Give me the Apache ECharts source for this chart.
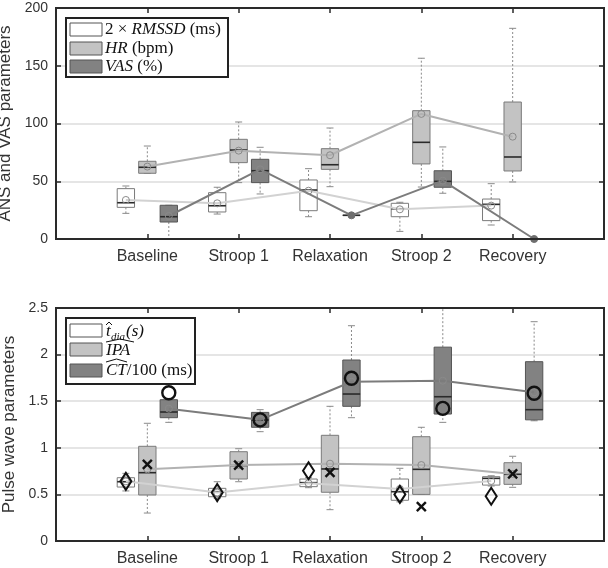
<!DOCTYPE html>
<html><head><meta charset="utf-8">
<script src="https://cdn.jsdelivr.net/npm/echarts@6/dist/echarts.min.js"></script>
<style>html,body{margin:0;padding:0;background:#fff;overflow:hidden}#c{width:608px;height:568px}</style>
</head><body><div id="c"></div>
<script>
const categories = ['Baseline', 'Stroop 1', 'Relaxation', 'Stroop 2', 'Recovery'];
const topTicks = [0, 50, 100, 150, 200];
const bottomTicks = [0, 0.5, 1, 1.5, 2, 2.5];

// Top panel: [whiskerLow, q1, median, q3, whiskerHigh]
const rmssdBox = [[22.2,27.4,31.4,43.6,45.9],[21.6,23.4,28.8,40.1,44.8],[19.3,24.5,42.4,51.1,60.9],[6.6,19.3,26.2,30.9,31.8],[12.1,15.9,30.0,34.6,47.9]];
const rmssdMean = [33.8, 30.9, 41.8, 25.7, 28.9];
const hrBox = [[56.9,56.9,62.1,67.3,80.5],[48.8,66.1,77.0,86.3,101.3],[45.3,60.3,64.3,78.2,96.1],[45.0,65.0,83.7,111.1,156.5],[49.4,58.9,71.0,118.6,182.4]];
const hrMean = [62.7, 76.5, 72.5, 108.3, 88.6];
const vasBox = [[0,14.7,19.3,29.2,29.2],[39.0,48.8,59.1,69.0,79.4],[20.5,20.5,20.5,20.5,20.5],[39.6,44.8,49.9,59.1,79.7],[0,0,0,0,0]];
const vasMean = [19.9, 60.3, 20.5, 50.5, 0];

// Bottom panel
const tdiaBox = [[0.537,0.579,0.636,0.679,0.726],[0.458,0.475,0.529,0.565,0.636],[0.572,0.583,0.626,0.665,0.679],[0.42,0.437,0.529,0.665,0.78],[0.59,0.60,0.672,0.69,0.70]];
const tdiaMean = [0.64, 0.52, 0.62, 0.558, 0.644];
const tdiaMarker = [0.64, 0.52, 0.754, 0.50, 0.48];
const ipaBox = [[0.30,0.494,0.733,1.016,1.263],[0.636,0.665,0.81,0.958,0.99],[0.336,0.523,0.773,1.134,1.445],[0.50,0.50,0.769,1.119,1.22],[0.576,0.608,0.716,0.84,0.909]];
const ipaMean = [0.769, 0.815, 0.83, 0.815, 0.72];
const ipaMarker = [0.823, 0.815, 0.737, 0.368, 0.72];
const ctBox = [[1.273,1.323,1.384,1.516,1.516],[1.173,1.22,1.298,1.38,1.409],[1.323,1.445,1.577,1.942,2.31],[1.273,1.362,1.548,2.08,2.9],[1.29,1.30,1.409,1.924,2.353]];
const ctMean = [1.42, 1.30, 1.709, 1.72, 1.595];
const ctMarker = [1.59, 1.30, 1.746, 1.423, 1.585];

const OFF = [-0.235, 0, 0.235];
const GRIDS = [{left: 56, top: 8, width: 548, height: 231}, {left: 56, top: 308, width: 548, height: 233}];
const chart = echarts.init(document.getElementById('c'), null, {renderer: 'canvas'});

function boxData(arr, g) { return arr.map((b, i) => [i + 1 + OFF[g]].concat(b)); }
function meanData(arr, g) { return arr.map((m, i) => [i + 1 + OFF[g], m]); }

function boxRender(fill, stroke) {
  return function (params, api) {
    const cs = params.coordSys;
    const cy = y => Math.max(cs.y, Math.min(cs.y + cs.height, y));
    const x = api.value(0);
    const P = v => { const c = api.coord([x, v]); return [c[0], cy(c[1])]; };
    const lo = P(api.value(1)), q1 = P(api.value(2)), md = P(api.value(3)), q3 = P(api.value(4)), hi = P(api.value(5));
    const w = api.size([0.19, 0])[0];
    const cx = lo[0];
    const cap = 3.5;
    const wh = {stroke: '#8a8a8a', lineWidth: 1, lineDash: [2, 2]};
    const capS = {stroke: '#8a8a8a', lineWidth: 1};
    const ch = [
      {type: 'line', shape: {x1: cx, y1: q3[1], x2: cx, y2: hi[1]}, style: wh},
      {type: 'line', shape: {x1: cx, y1: q1[1], x2: cx, y2: lo[1]}, style: wh},
    ];
    if (hi[1] > cs.y + 0.5) ch.push({type: 'line', shape: {x1: cx - cap, y1: hi[1], x2: cx + cap, y2: hi[1]}, style: capS});
    ch.push({type: 'line', shape: {x1: cx - cap, y1: lo[1], x2: cx + cap, y2: lo[1]}, style: capS});
    ch.push({type: 'rect', shape: {x: cx - w / 2, y: q3[1], width: w, height: Math.max(q1[1] - q3[1], 0.01)}, style: {fill: fill, stroke: stroke, lineWidth: 1}});
    ch.push({type: 'line', shape: {x1: cx - w / 2, y1: md[1], x2: cx + w / 2, y2: md[1]}, style: {stroke: '#2a2a2a', lineWidth: 1.6}});
    return {type: 'group', children: ch};
  };
}

function markerRender(kind) {
  return function (params, api) {
    const c = api.coord([api.value(0), api.value(1)]);
    const x = c[0], y = c[1];
    if (kind === 'diamond') {
      return {type: 'polygon', shape: {points: [[x, y - 8.5], [x + 5.5, y], [x, y + 8.5], [x - 5.5, y]]}, style: {fill: 'none', stroke: '#111', lineWidth: 2}};
    }
    if (kind === 'cross') {
      const s = 4.5;
      return {type: 'group', children: [
        {type: 'line', shape: {x1: x - s, y1: y - s, x2: x + s, y2: y + s}, style: {stroke: '#111', lineWidth: 2.4}},
        {type: 'line', shape: {x1: x - s, y1: y + s, x2: x + s, y2: y - s}, style: {stroke: '#111', lineWidth: 2.4}}
      ]};
    }
    return {type: 'circle', shape: {cx: x, cy: y, r: 6.5}, style: {fill: 'none', stroke: '#111', lineWidth: 2.4}};
  };
}

const fills = ['#ffffff', '#c3c3c3', '#828282'];
const strokes = ['#7a7a7a', '#7a7a7a', '#555555'];
const lineCols = ['#d2d2d2', '#b2b2b2', '#7c7c7c'];

function boxSeries(arr, g, gi) {
  return {type: 'custom', xAxisIndex: gi * 2, yAxisIndex: gi * 2, z: 2, renderItem: boxRender(fills[g], strokes[g]),
    encode: {x: 0, y: [1, 2, 3, 4, 5]}, data: boxData(arr, g), silent: true};
}
function meanSeries(arr, g, gi, filledIdx) {
  const d = meanData(arr, g).map((p, i) => (filledIdx && filledIdx.indexOf(i) >= 0)
    ? {value: p, symbolSize: 7, itemStyle: {color: '#6e6e6e', borderColor: '#6e6e6e'}} : {value: p});
  return {type: 'line', xAxisIndex: gi * 2, yAxisIndex: gi * 2, z: 3, data: d, symbol: 'circle', symbolSize: 7,
    lineStyle: {color: lineCols[g], width: 2}, itemStyle: {color: 'rgba(0,0,0,0)', borderColor: '#8a8a8a', borderWidth: 1},
    silent: true, animation: false};
}
function markerSeries(arr, g, kind) {
  return {type: 'custom', xAxisIndex: 2, yAxisIndex: 2, z: 4, renderItem: markerRender(kind),
    data: meanData(arr, g), silent: true};
}
function ghostSeries(gi, yv) {
  return {type: 'scatter', xAxisIndex: gi * 2 + 1, yAxisIndex: gi * 2 + 1, symbolSize: 0, silent: true, data: [[1, yv]]};
}

const axisCol = '#2a2a2a';
const labelFont = 'Liberation Sans, Arial, sans-serif';
function xAxes(gi) {
  const mk = (pos, lbl) => ({type: 'value', gridIndex: gi, min: 0, max: 6, interval: 1, position: pos,
    axisLine: {show: true, onZero: false, lineStyle: {color: axisCol, width: 2}},
    axisTick: {show: true, inside: true, length: 5, lineStyle: {color: axisCol, width: 1.5}},
    splitLine: {show: false}, axisLabel: lbl});
  return [
    mk('bottom', {show: true, margin: 10, fontSize: 16, color: '#333', fontFamily: labelFont,
      formatter: v => (v >= 1 && v <= 5) ? categories[v - 1] : ''}),
    mk('top', {show: false})
  ];
}
function yAxes(gi, ticks, name, gap) {
  const mn = ticks[0], mx = ticks[ticks.length - 1], iv = ticks[1] - ticks[0];
  const mk = (pos) => ({type: 'value', gridIndex: gi, min: mn, max: mx, interval: iv, position: pos,
    axisLine: {show: true, onZero: false, lineStyle: {color: axisCol, width: 2}},
    axisTick: {show: true, inside: true, length: 5, lineStyle: {color: axisCol, width: 1.5}}});
  const left = Object.assign(mk('left'), {name: name, nameLocation: 'middle', nameGap: gap,
      nameTextStyle: {fontSize: 17, color: '#333', fontFamily: labelFont},
      axisLabel: {show: true, fontSize: 14, color: '#333', margin: 8, fontFamily: labelFont},
      splitLine: {show: true, showMinLine: false, showMaxLine: false, lineStyle: {color: '#dcdcdc', width: 1.5}}});
  const right = Object.assign(mk('right'), {axisLabel: {show: false}, splitLine: {show: false}});
  return [left, right];
}

const serif = 'Liberation Serif, Times New Roman, serif';
const rich = {
  r: {fontFamily: serif, fontSize: 17, color: '#111'},
  i: {fontFamily: serif, fontSize: 17, fontStyle: 'italic', color: '#111'}
};
function swatch(x, y, fill) {
  return {type: 'rect', shape: {x: x, y: y, width: 32, height: 13}, style: {fill: fill, stroke: '#555', lineWidth: 1}, z: 100};
}
function txt(x, y, t) {
  return {type: 'text', x: x, y: y, z: 100, style: {text: t, rich: rich, verticalAlign: 'middle', fill: '#111', font: '17px ' + serif}};
}
function hat(x1, x2, y) {
  return {type: 'polyline', z: 100, shape: {points: [[x1, y + 3], [(x1 + x2) / 2, y], [x2, y + 3]]}, style: {stroke: '#111', lineWidth: 1, fill: 'none'}};
}
function frame(g) {
  return {type: 'rect', z: 90, silent: true, shape: {x: g.left, y: g.top, width: g.width, height: g.height},
    style: {fill: 'rgba(0,0,0,0)', stroke: axisCol, lineWidth: 2}};
}

const graphics = [
  frame(GRIDS[0]), frame(GRIDS[1]),
  {type: 'rect', z: 99, shape: {x: 66, y: 18, width: 162, height: 59}, style: {fill: '#fff', stroke: '#222', lineWidth: 2}},
  swatch(70, 23, fills[0]), swatch(70, 42, fills[1]), swatch(70, 60, fills[2]),
  txt(105, 30, '{r|2 × }{i|RMSSD}{r| (ms)}'),
  txt(105, 48.5, '{i|HR}{r| (bpm)}'),
  txt(105, 67, '{i|VAS}{r| (%)}'),
  {type: 'rect', z: 99, shape: {x: 66, y: 318, width: 129, height: 66}, style: {fill: '#fff', stroke: '#222', lineWidth: 2}},
  swatch(70, 324, fills[0]), swatch(70, 343, fills[1]), swatch(70, 364, fills[2]),
  txt(106, 332, '{i|t}'), hat(106, 112, 322),
  {type: 'text', x: 111, y: 337, z: 100, style: {text: 'dia', font: 'italic 11px ' + serif, fill: '#111', verticalAlign: 'middle'}},
  txt(126, 332, '{i|(s)}'),
  txt(106, 351, '{i|IPA}'), hat(106, 134, 339),
  txt(106, 371, '{i|CT}{r|/100 (ms)}'), hat(106, 127, 359)
];

const option = {
  animation: false,
  backgroundColor: '#fff',
  grid: GRIDS.map(g => Object.assign({outerBoundsMode: 'none', containLabel: false}, g)),
  xAxis: xAxes(0).concat(xAxes(1)),
  yAxis: yAxes(0, topTicks, 'ANS and VAS parameters', 31).concat(yAxes(1, bottomTicks, 'Pulse wave parameters', 34)),
  series: [
    ghostSeries(0, 100), ghostSeries(1, 1),
    boxSeries(rmssdBox, 0, 0), boxSeries(hrBox, 1, 0), boxSeries(vasBox, 2, 0),
    meanSeries(rmssdMean, 0, 0), meanSeries(hrMean, 1, 0), meanSeries(vasMean, 2, 0, [2, 4]),
    boxSeries(tdiaBox, 0, 1), boxSeries(ipaBox, 1, 1), boxSeries(ctBox, 2, 1),
    meanSeries(tdiaMean, 0, 1), meanSeries(ipaMean, 1, 1), meanSeries(ctMean, 2, 1),
    markerSeries(tdiaMarker, 0, 'diamond'), markerSeries(ipaMarker, 1, 'cross'), markerSeries(ctMarker, 2, 'circle')
  ],
  graphic: graphics
};
chart.setOption(option);
</script></body></html>
